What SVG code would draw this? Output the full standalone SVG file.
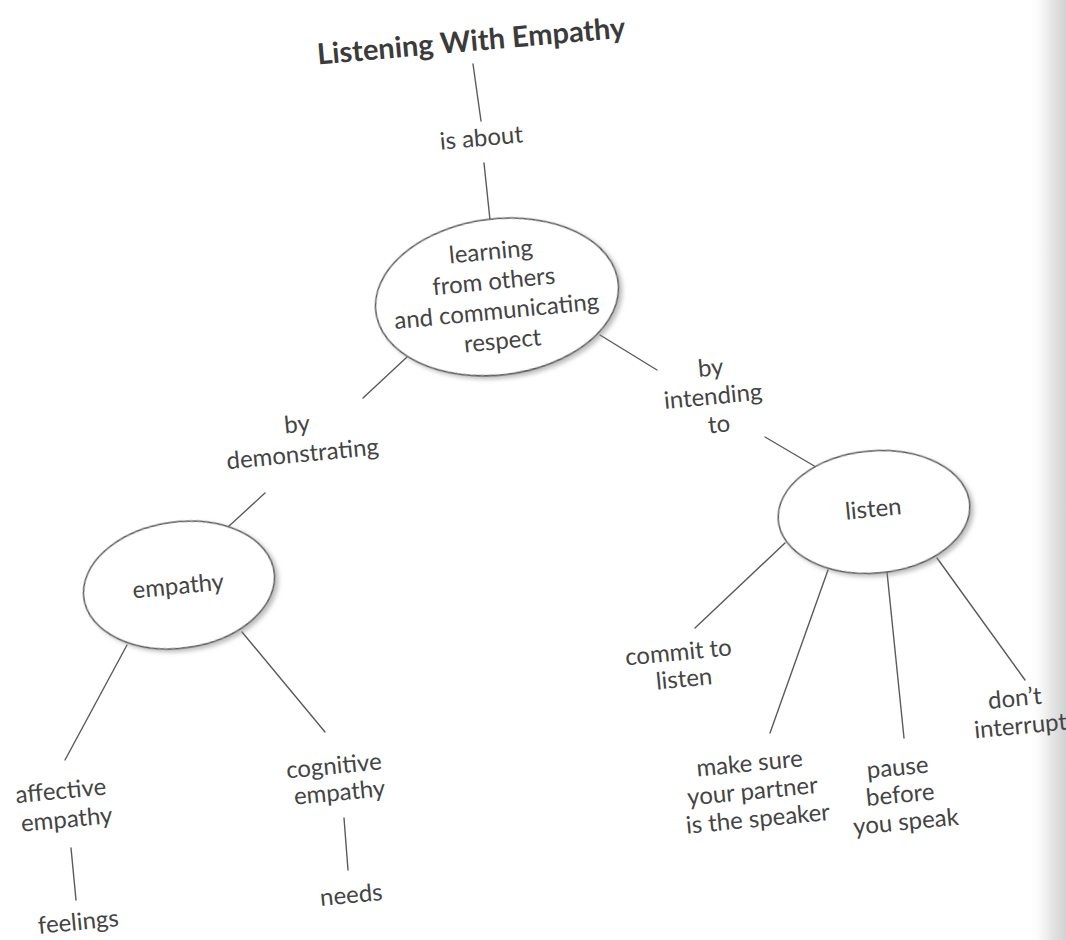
<svg xmlns="http://www.w3.org/2000/svg" width="1066" height="940" viewBox="0 0 1066 940">
  <style>
    .t { font-family: "Lato", "Open Sans", "Liberation Sans", sans-serif; font-size: 24px; fill: #444444; text-anchor: middle; font-weight: 400; }
    .title { font-family: "Lato", "Open Sans", "Liberation Sans", sans-serif; font-size: 29px; font-weight: 700; fill: #3b3b3b; text-anchor: middle; }
    .ln { stroke: #5a5a5a; stroke-width: 1.4; fill: none; stroke-linecap: round; }
    .node { fill: #ffffff; stroke: #5a5a5a; stroke-width: 1.5; filter: url(#sh); }
  </style>
  <defs>
    <filter id="sh" x="-20%" y="-20%" width="140%" height="150%">
      <feDropShadow dx="3" dy="3" stdDeviation="2" flood-color="#8a8a8a" flood-opacity="0.55"/>
    </filter>
    <linearGradient id="gut" x1="0" y1="0" x2="1" y2="0">
      <stop offset="0" stop-color="#ffffff" stop-opacity="0"/>
      <stop offset="0.6" stop-color="#e6e6e6"/>
      <stop offset="1" stop-color="#d2d2d2"/>
    </linearGradient>
  </defs>
  <rect width="1066" height="940" fill="#ffffff"/>
  <rect x="1028" y="0" width="38" height="940" fill="url(#gut)"/>

  <g id="connectors">
    <line class="ln" x1="473" y1="64" x2="481" y2="121"/>
    <line class="ln" x1="484" y1="163" x2="490" y2="220"/>
    <line class="ln" x1="407" y1="357" x2="363" y2="398"/>
    <line class="ln" x1="265" y1="493" x2="228" y2="527"/>
    <line class="ln" x1="600" y1="335" x2="657" y2="370"/>
    <line class="ln" x1="765" y1="437" x2="816" y2="467"/>
    <line class="ln" x1="127" y1="645" x2="65" y2="760"/>
    <line class="ln" x1="242" y1="632" x2="325" y2="732"/>
    <line class="ln" x1="71" y1="848" x2="76" y2="900"/>
    <line class="ln" x1="344" y1="818" x2="348" y2="870"/>
    <line class="ln" x1="785" y1="543" x2="695" y2="628"/>
    <line class="ln" x1="828" y1="570" x2="770" y2="733"/>
    <line class="ln" x1="887" y1="572" x2="904" y2="738"/>
    <line class="ln" x1="937" y1="558" x2="1025" y2="680"/>
  </g>

  <g id="title">
    <text class="title" x="472" y="51" transform="rotate(-5 472 51)">Listening With Empathy</text>
  </g>

  <g id="is-about">
    <text class="t" x="482" y="146" transform="rotate(-5 482 146)">is about</text>
  </g>

  <g id="learning">
    <ellipse class="node" cx="497" cy="297" rx="122" ry="78" transform="rotate(-7 497 297)"/>
    <text class="t" transform="rotate(-5.5 499 304)">
      <tspan x="499" y="259">learning</tspan>
      <tspan x="499" y="289">from others</tspan>
      <tspan x="499" y="319">and communicating</tspan>
      <tspan x="499" y="349">respect</tspan>
    </text>
  </g>

  <g id="by-demonstrating">
    <text class="t" transform="rotate(-5.5 302 447)">
      <tspan x="302" y="432">by</tspan>
      <tspan x="302" y="462">demonstrating</tspan>
    </text>
  </g>

  <g id="by-intending">
    <text class="t" transform="rotate(-5.5 717 404)">
      <tspan x="717" y="375.5">by</tspan>
      <tspan x="717" y="404">intending</tspan>
      <tspan x="717" y="432.5">to</tspan>
    </text>
  </g>

  <g id="empathy">
    <ellipse class="node" cx="179" cy="585" rx="96" ry="63" transform="rotate(-8 179 585)"/>
    <text class="t" x="179" y="594" transform="rotate(-5.5 179 594)">empathy</text>
  </g>

  <g id="listen">
    <ellipse class="node" cx="874" cy="512" rx="96" ry="61" transform="rotate(-5 874 512)"/>
    <text class="t" x="874" y="517" transform="rotate(-5.5 874 517)">listen</text>
  </g>

  <g id="affective">
    <text class="t" transform="rotate(-5.5 66 813)">
      <tspan x="66" y="798.5">affective</tspan>
      <tspan x="66" y="827.5">empathy</tspan>
    </text>
  </g>

  <g id="feelings">
    <text class="t" x="79" y="930" transform="rotate(-5.5 79 930)">feelings</text>
  </g>

  <g id="cognitive">
    <text class="t" transform="rotate(-5.5 339 787)">
      <tspan x="339" y="773.5">cognitive</tspan>
      <tspan x="339" y="800.5">empathy</tspan>
    </text>
  </g>

  <g id="needs">
    <text class="t" x="352" y="903" transform="rotate(-5.5 352 903)">needs</text>
  </g>

  <g id="commit">
    <text class="t" transform="rotate(-5.5 683.5 673.5)">
      <tspan x="683.5" y="660">commit to</tspan>
      <tspan x="683.5" y="687">listen</tspan>
    </text>
  </g>

  <g id="make-sure">
    <text class="t" transform="rotate(-5.5 756 799)">
      <tspan x="756" y="771">make sure</tspan>
      <tspan x="756" y="799">your partner</tspan>
      <tspan x="756" y="827">is the speaker</tspan>
    </text>
  </g>

  <g id="pause">
    <text class="t" transform="rotate(-5.5 904 802.5)">
      <tspan x="904" y="775">pause</tspan>
      <tspan x="904" y="802.5">before</tspan>
      <tspan x="904" y="830">you speak</tspan>
    </text>
  </g>

  <g id="dont-interrupt">
    <text class="t" transform="rotate(-5.5 1020 720)">
      <tspan x="1020" y="706">don’t</tspan>
      <tspan x="1020" y="734">interrupt</tspan>
    </text>
  </g>
</svg>
